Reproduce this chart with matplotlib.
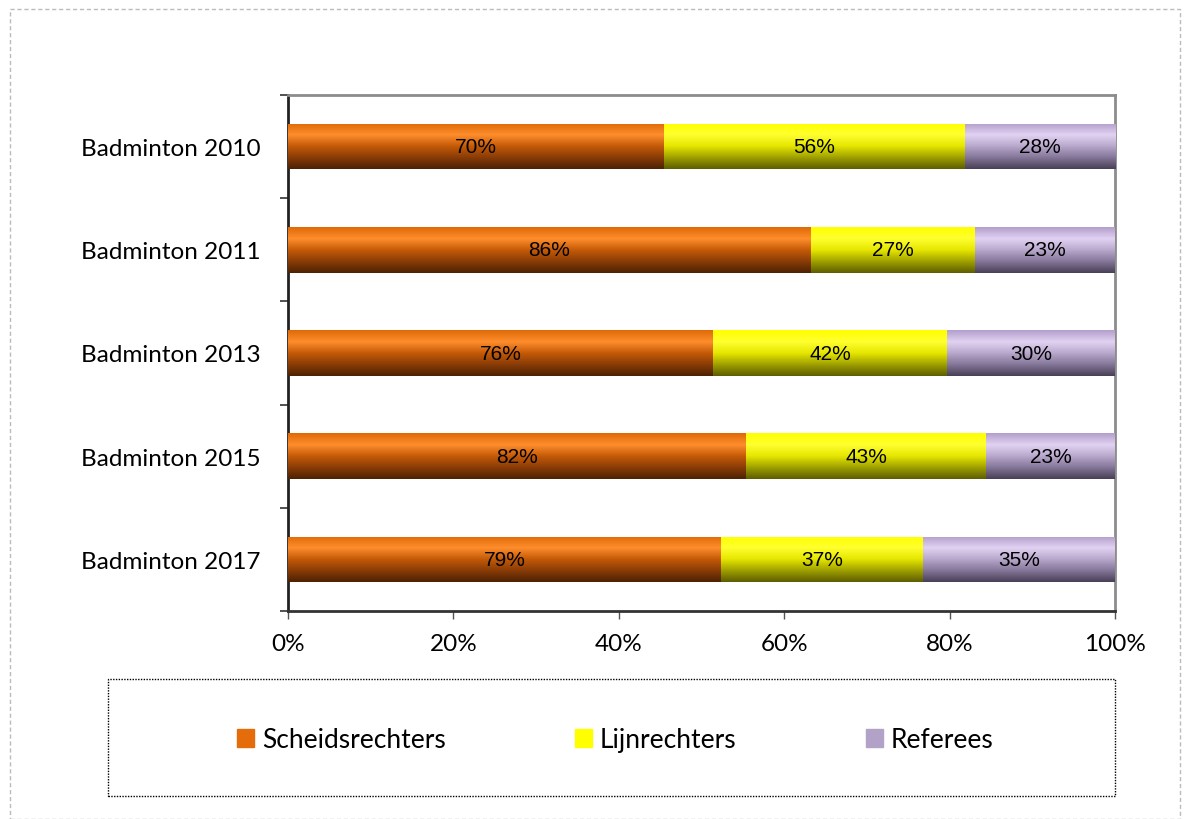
import numpy as np
import matplotlib.pyplot as plt
from matplotlib.patches import Rectangle
from matplotlib.colors import LinearSegmentedColormap
from matplotlib.ticker import MultipleLocator, FuncFormatter

categories = ['Badminton 2010', 'Badminton 2011', 'Badminton 2013',
              'Badminton 2015', 'Badminton 2017']
scheids = [70, 86, 76, 82, 79]
lijn = [56, 27, 42, 43, 37]
referees = [28, 23, 30, 23, 35]
series_names = ['Scheidsrechters', 'Lijnrechters', 'Referees']

# kleurverloop per serie: boven -> licht -> donker onder
gradients = [
    ['#E06A08', '#FF8E2C', '#C45A08', '#8A3C06', '#4E2204'],
    ['#FFFF00', '#FFFF30', '#E6E600', '#A0A000', '#5E5E00'],
    ['#B4A0CC', '#E2D2F2', '#B8A8CC', '#857799', '#4A4058'],
]
legend_colors = ['#E46C0A', '#FFFF00', '#B3A2C7']

plt.rcParams['font.family'] = ['Lato', 'DejaVu Sans']

fig = plt.figure(figsize=(11.9, 8.2), dpi=100)
ax = fig.add_axes([288 / 1190, 1 - 612 / 820, 827 / 1190, 516 / 820])

data = np.array([scheids, lijn, referees], dtype=float)
totals = data.sum(axis=0)
pct = data / totals * 100

y = np.arange(len(categories))
bar_h = 0.44
left = np.zeros(len(categories))
for k in range(3):
    cmap = LinearSegmentedColormap.from_list('g%d' % k, gradients[k])
    grad = np.linspace(0, 1, 64).reshape(-1, 1)
    bars = ax.barh(y, pct[k], left=left, height=bar_h, color=legend_colors[k],
                   edgecolor='none', label=series_names[k], zorder=2)
    for b, val in zip(bars, data[k]):
        x0, y0 = b.get_x(), b.get_y()
        w, h = b.get_width(), b.get_height()
        im = ax.imshow(grad, cmap=cmap, aspect='auto', origin='upper',
                       extent=[x0, x0 + w, y0 + h, y0], zorder=3)
        im.set_clip_path(b)
        ax.text(x0 + w / 2, y0 + h / 2, '%d%%' % val, ha='center', va='center',
                fontsize=15,
                family=['Liberation Sans Narrow', 'Liberation Sans', 'DejaVu Sans'],
                color='black', zorder=4)
    left += pct[k]

ax.set_xlim(0, 100)
ax.set_ylim(len(categories) - 0.5, -0.5)
ax.xaxis.set_major_locator(MultipleLocator(20))
ax.xaxis.set_major_formatter(FuncFormatter(lambda v, p: '%d%%' % v))
ax.set_yticks(y)
ax.set_yticklabels(categories)
ax.set_yticks(np.arange(-0.5, len(categories)), minor=True)
ax.tick_params(axis='y', which='major', length=0, pad=20, labelsize=17.5)
ax.tick_params(axis='y', which='minor', length=6, width=1.2, color='#333333',
               direction='out')
ax.tick_params(axis='x', length=6, width=1, color='#555555', direction='out',
               labelsize=17.5, pad=10)
ax.spines['left'].set_linewidth(2)
ax.spines['left'].set_color('#222222')
ax.spines['bottom'].set_linewidth(2)
ax.spines['bottom'].set_color('#333333')
ax.spines['top'].set_color('#8C8C8C')
ax.spines['top'].set_linewidth(2)
ax.spines['right'].set_color('#8C8C8C')
ax.spines['right'].set_linewidth(2)

# legenda in kader met stippellijn
fig.patches.append(Rectangle((108 / 1190, 1 - 797 / 820), 1007 / 1190, 117 / 820,
                             transform=fig.transFigure, fill=False,
                             edgecolor='black', linestyle=(0, (1, 1)), lw=1))
handles = [Rectangle((0, 0), 1, 1, color=c) for c in legend_colors]
fig.legend(handles, series_names, loc='center', ncol=3,
           bbox_to_anchor=(0.517, 1 - 741 / 820), frameon=False, fontsize=19,
           handlelength=0.65, handleheight=0.65, handletextpad=0.3,
           columnspacing=4.9)

# buitenrand
fig.patches.append(Rectangle((10 / 1190, 0), 1170 / 1190, 1 - 10 / 820,
                             transform=fig.transFigure, fill=False,
                             edgecolor='#BBBBBB', linestyle=(0, (3, 2)), lw=1))

fig.savefig('out.png', dpi=100)
